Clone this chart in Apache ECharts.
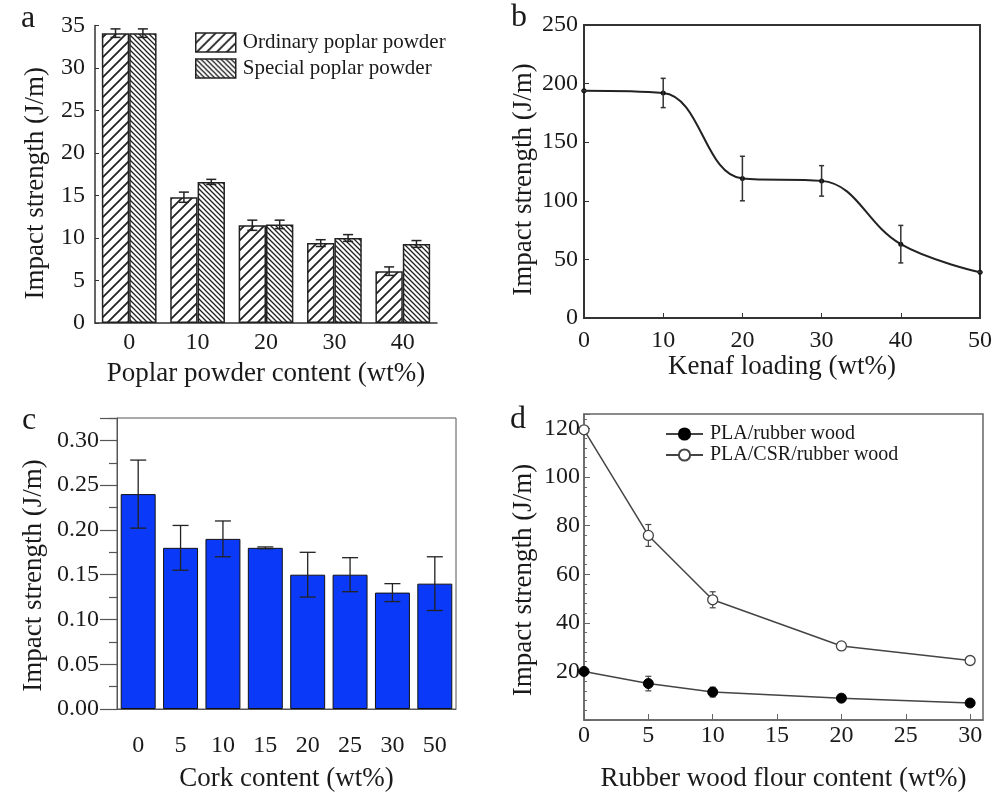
<!DOCTYPE html>
<html><head><meta charset="utf-8">
<script src="https://cdn.jsdelivr.net/npm/echarts@6/dist/echarts.min.js"></script>
<style>html,body{margin:0;padding:0;background:#fff}#c{width:997px;height:794px}</style>
</head><body><div id="c"></div>
<script>
// ---- Panel a ----
const catsA = ['0', '10', '20', '30', '40'];
const ordinaryA = [34.1, 14.8, 11.5, 9.4, 6.1];
const ordinaryErrA = [0.5, 0.6, 0.6, 0.4, 0.5];
const specialA = [34.1, 16.6, 11.6, 10.0, 9.3];
const specialErrA = [0.5, 0.3, 0.5, 0.4, 0.4];
// ---- Panel b ----
const kenafB = [0, 10, 20, 30, 40, 50];
const impactB = [194, 192, 119, 117, 63, 39];
const errB = [0, 12.5, 19, 13, 16, 0];
// ---- Panel c ----
const catsC = ['0', '5', '10', '15', '20', '25', '30', '50'];
const impactC = [0.24, 0.18, 0.19, 0.18, 0.15, 0.15, 0.13, 0.14];
const errC = [0.038, 0.025, 0.02, 0.001, 0.025, 0.019, 0.01, 0.03];
// ---- Panel d ----
const flourD = [0, 5, 10, 20, 30];
const plaD = [20, 15, 11.5, 9, 7];
const plaErrD = [0, 3, 2, 0.5, 0.5];
const csrD = [119.5, 76, 49.5, 30.5, 24.5];
const csrErrD = [1.5, 4.5, 3.3, 1.5, 1];

const FONT = 'Liberation Serif';
const TXT = '#1a1a1a';

function hatch(size, dir, lw, color) {
  const c = document.createElement('canvas');
  c.width = size; c.height = size;
  const g = c.getContext('2d');
  g.fillStyle = '#fff'; g.fillRect(0, 0, size, size);
  g.strokeStyle = color; g.lineWidth = lw; g.beginPath();
  if (dir === '/') {
    g.moveTo(-1, 1); g.lineTo(1, -1);
    g.moveTo(0, size); g.lineTo(size, 0);
    g.moveTo(size - 1, size + 1); g.lineTo(size + 1, size - 1);
  } else {
    g.moveTo(0, 0); g.lineTo(size, size);
    g.moveTo(-1, size - 1); g.lineTo(1, size + 1);
    g.moveTo(size - 1, -1); g.lineTo(size + 1, 1);
  }
  g.stroke();
  return c;
}
const patOrd = { image: hatch(10, '/', 1.8, '#222'), repeat: 'repeat' };
const patSpe = { image: hatch(5, '\\', 1.3, '#222'), repeat: 'repeat' };

function errRender(cap, offsetFrac, color, lw) {
  return function (params, api) {
    const x = api.value(0), y = api.value(1), e = api.value(2);
    const hi = api.coord([x, y + e]);
    const lo = api.coord([x, y - e]);
    let dx = 0;
    if (offsetFrac) dx = api.size([1, 0])[0] * offsetFrac;
    const px = hi[0] + dx;
    const st = { stroke: color, lineWidth: lw };
    return {
      type: 'group', children: [
        { type: 'line', shape: { x1: px, y1: hi[1], x2: px, y2: lo[1] }, style: st },
        { type: 'line', shape: { x1: px - cap / 2, y1: hi[1], x2: px + cap / 2, y2: hi[1] }, style: st },
        { type: 'line', shape: { x1: px - cap / 2, y1: lo[1], x2: px + cap / 2, y2: lo[1] }, style: st }
      ]
    };
  };
}

const lbl = (extra) => Object.assign({ fontFamily: FONT, fontSize: 24, color: TXT }, extra || {});
const nameStyle = (extra) => Object.assign({ fontFamily: FONT, fontSize: 27, color: TXT }, extra || {});

const option = {
  backgroundColor: '#fff',
  animation: false,
  graphic: [
    { type: 'text', left: 21, top: 3, style: { text: 'a', font: '32px "Liberation Serif"', fill: TXT } },
    { type: 'text', left: 511, top: 2, style: { text: 'b', font: '32px "Liberation Serif"', fill: TXT } },
    { type: 'text', left: 22, top: 405, style: { text: 'c', font: '32px "Liberation Serif"', fill: TXT } },
    { type: 'text', left: 510, top: 404, style: { text: 'd', font: '32px "Liberation Serif"', fill: TXT } }
  ],
  legend: [
    {
      left: 190, top: 27, orient: 'vertical', itemWidth: 40, itemHeight: 19, itemGap: 5,
      icon: 'rect',
      data: ['Ordinary poplar powder', 'Special poplar powder'],
      itemStyle: { borderColor: '#222', borderWidth: 1.5 },
      textStyle: { fontFamily: FONT, fontSize: 21, color: TXT, padding: [0, 0, 0, 2] }
    },
    {
      left: 660, top: 419, orient: 'vertical', itemWidth: 37, itemHeight: 14, itemGap: 1,
      data: ['PLA/rubber wood', 'PLA/CSR/rubber wood'],
      textStyle: { fontFamily: FONT, fontSize: 20, color: TXT, padding: [0, 0, 0, 2] }
    }
  ],
  grid: [
    { left: 95, top: 25.5, width: 342, height: 297.5 },
    { left: 584, top: 25, width: 396, height: 293, show: true, borderColor: '#333', borderWidth: 2 },
    { left: 117, top: 418, width: 339, height: 291, show: true, borderColor: '#555', borderWidth: 1 },
    { left: 584, top: 414, width: 399, height: 306, show: true, borderColor: '#666', borderWidth: 1.5 }
  ],
  xAxis: [
    {
      gridIndex: 0, type: 'category', data: catsA,
      axisLine: { lineStyle: { color: '#333', width: 1.5 } },
      axisTick: { show: false },
      axisLabel: lbl({ margin: 8 }),
      name: 'Poplar powder content (wt%)', nameLocation: 'middle', nameGap: 37,
      nameTextStyle: nameStyle()
    },
    {
      gridIndex: 1, type: 'value', min: 0, max: 50, interval: 10,
      axisLine: { lineStyle: { color: '#333', width: 2 } },
      axisTick: { inside: true, length: 5, lineStyle: { color: '#333' } },
      splitLine: { show: false },
      axisLabel: lbl({ margin: 11 }),
      name: 'Kenaf loading (wt%)', nameLocation: 'middle', nameGap: 35,
      nameTextStyle: nameStyle()
    },
    {
      gridIndex: 2, type: 'category', data: catsC,
      axisLine: { lineStyle: { color: '#555', width: 1 } },
      axisTick: { alignWithLabel: true, length: 18, lineStyle: { color: '#444', width: 1.2 } },
      axisLabel: lbl({ margin: 25 }),
      name: 'Cork content (wt%)', nameLocation: 'middle', nameGap: 56,
      nameTextStyle: nameStyle()
    },
    {
      gridIndex: 3, type: 'value', min: 0, max: 31, interval: 5,
      axisLine: { lineStyle: { color: '#666', width: 1.5 } },
      axisTick: { inside: true, length: 6, lineStyle: { color: '#666' } },
      splitLine: { show: false },
      axisLabel: lbl({ margin: 4, showMaxLabel: false }),
      name: 'Rubber wood flour content (wt%)', nameLocation: 'middle', nameGap: 45,
      nameTextStyle: nameStyle()
    }
  ],
  yAxis: [
    {
      gridIndex: 0, type: 'value', min: 0, max: 35, interval: 5,
      axisLine: { show: true, lineStyle: { color: '#333', width: 1.5 } },
      axisTick: { show: true, inside: true, length: 4, lineStyle: { color: '#333' } },
      splitLine: { show: false },
      axisLabel: lbl({ margin: 10 }),
      name: 'Impact strength (J/m)', nameLocation: 'middle', nameGap: 46,
      nameTextStyle: nameStyle({ padding: [0, 18, 0, 0] })
    },
    {
      gridIndex: 1, type: 'value', min: 0, max: 250, interval: 50,
      axisLine: { show: true, lineStyle: { color: '#333', width: 2 } },
      axisTick: { show: true, inside: true, length: 5, lineStyle: { color: '#333' } },
      splitLine: { show: false },
      axisLabel: lbl({ margin: 6 }),
      name: 'Impact strength (J/m)', nameLocation: 'middle', nameGap: 47,
      nameTextStyle: nameStyle({ padding: [0, 16, 0, 0] })
    },
    {
      gridIndex: 2, type: 'value', min: 0, max: 0.325, interval: 0.05,
      axisLine: { show: true, lineStyle: { color: '#555', width: 1 } },
      axisTick: { show: true, length: 17, lineStyle: { color: '#555', width: 1.2 } },
      minorTick: { show: true, splitNumber: 2, length: 8, lineStyle: { color: '#555', width: 1.2 } },
      splitLine: { show: false },
      axisLabel: lbl({ margin: 18, showMaxLabel: false, formatter: (v) => v.toFixed(2) }),
      name: 'Impact strength (J/m)', nameLocation: 'middle', nameGap: 70,
      nameTextStyle: nameStyle({ padding: [0, 24, 0, 0] })
    },
    {
      gridIndex: 3, type: 'value', min: 0, max: 126, interval: 20,
      axisLine: { show: true, lineStyle: { color: '#666', width: 1.5 } },
      axisTick: { show: true, inside: true, length: 6, lineStyle: { color: '#666' } },
      minorTick: { show: true, splitNumber: 5, length: 3, lineStyle: { color: '#666' } },
      splitLine: { show: false },
      axisLabel: lbl({ margin: 4, showMaxLabel: false, formatter: (v) => (v === 0 ? '' : String(v)) }),
      name: 'Impact strength (J/m)', nameLocation: 'middle', nameGap: 47,
      nameTextStyle: nameStyle({ padding: [0, 26, 0, 0] })
    }
  ],
  series: [
    // a
    {
      name: 'Ordinary poplar powder', type: 'bar', xAxisIndex: 0, yAxisIndex: 0,
      data: ordinaryA, barGap: '0%', barCategoryGap: '20%',
      itemStyle: { color: patOrd, borderColor: '#222', borderWidth: 1.5 }
    },
    {
      name: 'Special poplar powder', type: 'bar', xAxisIndex: 0, yAxisIndex: 0,
      data: specialA, barGap: '0%', barCategoryGap: '20%',
      itemStyle: { color: patSpe, borderColor: '#222', borderWidth: 1.5 }
    },
    {
      type: 'custom', xAxisIndex: 0, yAxisIndex: 0, z: 5,
      renderItem: errRender(10, -0.2, '#222', 1.5),
      data: catsA.map((c, i) => [i, ordinaryA[i], ordinaryErrA[i]])
    },
    {
      type: 'custom', xAxisIndex: 0, yAxisIndex: 0, z: 5,
      renderItem: errRender(10, 0.2, '#222', 1.5),
      data: catsA.map((c, i) => [i, specialA[i], specialErrA[i]])
    },
    // b
    {
      type: 'line', xAxisIndex: 1, yAxisIndex: 1, smooth: 0.4,
      data: kenafB.map((x, i) => [x, impactB[i]]),
      symbol: 'circle', symbolSize: 5,
      lineStyle: { color: '#222', width: 2 }, itemStyle: { color: '#111' }
    },
    {
      type: 'custom', xAxisIndex: 1, yAxisIndex: 1, z: 5,
      renderItem: errRender(5, 0, '#333', 1.5),
      data: kenafB.map((x, i) => [x, impactB[i], errB[i]])
    },
    // c
    {
      type: 'bar', xAxisIndex: 2, yAxisIndex: 2, data: impactC, barCategoryGap: '17.5%',
      itemStyle: { color: '#0a3af8', borderColor: '#111', borderWidth: 1 }
    },
    {
      type: 'custom', xAxisIndex: 2, yAxisIndex: 2, z: 5,
      renderItem: errRender(16, 0, '#222', 1.3),
      data: catsC.map((c, i) => [i, impactC[i], errC[i]])
    },
    // d
    {
      name: 'PLA/rubber wood', type: 'line', xAxisIndex: 3, yAxisIndex: 3,
      data: flourD.map((x, i) => [x, plaD[i]]),
      symbol: 'circle', symbolSize: 10,
      lineStyle: { color: '#444', width: 1.5 },
      itemStyle: { color: '#000', borderColor: '#000', borderWidth: 1 }
    },
    {
      name: 'PLA/CSR/rubber wood', type: 'line', xAxisIndex: 3, yAxisIndex: 3,
      data: flourD.map((x, i) => [x, csrD[i]]),
      symbol: 'circle', symbolSize: 10,
      lineStyle: { color: '#444', width: 1.5 },
      itemStyle: { color: '#fff', borderColor: '#444', borderWidth: 1.3 }
    },
    {
      type: 'custom', xAxisIndex: 3, yAxisIndex: 3, z: 1,
      renderItem: errRender(6, 0, '#444', 1.2),
      data: flourD.map((x, i) => [x, plaD[i], plaErrD[i]])
    },
    {
      type: 'custom', xAxisIndex: 3, yAxisIndex: 3, z: 1,
      renderItem: errRender(6, 0, '#444', 1.2),
      data: flourD.map((x, i) => [x, csrD[i], csrErrD[i]])
    }
  ]
};

const chart = echarts.init(document.getElementById('c'), null, { renderer: 'canvas' });
chart.setOption(option);
</script>
</body></html>
